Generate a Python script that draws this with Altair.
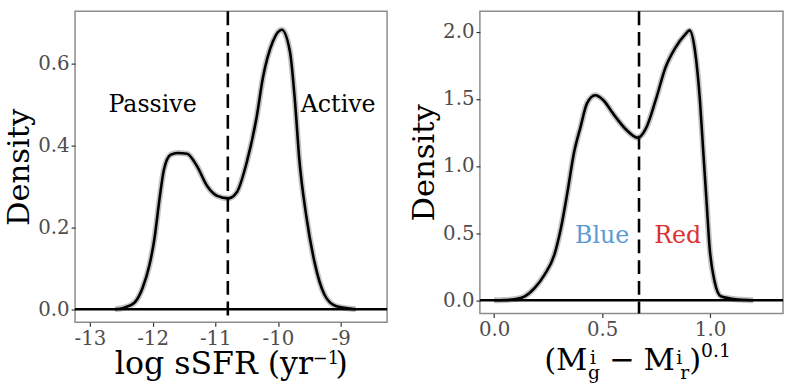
import altair as alt
import pandas as pd

FONT = "DejaVu Serif"

# ---- left panel: log sSFR density ----
ssfr_x = [-12.6, -12.45, -12.29, -12.16, -12.05, -11.97, -11.89, -11.82, -11.71, -11.60,
          -11.45, -11.29, -11.13, -10.97, -10.79, -10.66, -10.50, -10.34, -10.24, -10.08,
          -9.94, -9.81, -9.73, -9.66, -9.55, -9.42, -9.26, -9.08, -8.76]
ssfr_density = [0.0, 0.004, 0.016, 0.052, 0.108, 0.173, 0.269, 0.341, 0.378, 0.382,
                0.380, 0.349, 0.301, 0.277, 0.271, 0.285, 0.358, 0.470, 0.566, 0.655,
                0.683, 0.630, 0.510, 0.366, 0.229, 0.117, 0.036, 0.008, 0.0]
ssfr_split = -10.8
ssfr_labels = ["Passive", "Active"]
ssfr_label_x = [-12.0, -9.04]
ssfr_label_y = [0.5, 0.5]
ssfr_xticks = [-13, -12, -11, -10, -9]
ssfr_yticks = [0.0, 0.2, 0.4, 0.6]

# ---- right panel: colour density ----
color_x = [0.0, 0.05, 0.10, 0.142, 0.188, 0.233, 0.279, 0.309, 0.339, 0.37, 0.40, 0.43,
           0.468, 0.506, 0.551, 0.612, 0.665, 0.703, 0.748, 0.794, 0.839, 0.885, 0.905,
           0.93, 0.953, 0.968, 0.983, 0.998, 1.021, 1.05, 1.11, 1.2]
color_density = [0.0, 0.002, 0.01, 0.03, 0.093, 0.19, 0.34, 0.535, 0.80, 1.10, 1.29, 1.466,
                 1.527, 1.49, 1.39, 1.27, 1.21, 1.28, 1.49, 1.735, 1.88, 1.98, 2.01,
                 1.86, 1.49, 1.12, 0.755, 0.39, 0.14, 0.03, 0.01, 0.0]
color_split = 0.671
color_labels = ["Blue", "Red"]
color_label_x = [0.50, 0.85]
color_label_y = [0.48, 0.48]
color_label_colors = ["#5a9bd4", "#e0302e"]
color_xticks = [0.0, 0.5, 1.0]
color_yticks = [0.0, 0.5, 1.0, 1.5, 2.0]

LW = 2.6
one = pd.DataFrame({"v": [0]})


def panel(xs, ys, split, xdom, ydom, xticks, yticks, xfmt, width, height,
          labels, lx, ly, lcolors):
    df = pd.DataFrame({"x": xs, "density": ys})
    xsc = alt.Scale(domain=xdom, nice=False, zero=False)
    ysc = alt.Scale(domain=ydom, nice=False, zero=False)
    halo = alt.Chart(df).mark_line(color="#b5b5b5", strokeWidth=6, opacity=0.8,
                                   interpolate="monotone").encode(
        x=alt.X("x:Q", scale=xsc, axis=alt.Axis(values=xticks, labelExpr=xfmt, title=None)),
        y=alt.Y("density:Q", scale=ysc,
                axis=alt.Axis(values=yticks, format=".1f", title="Density",
                              titlePadding=2, minExtent=38, maxExtent=38)),
    )
    line = alt.Chart(df).mark_line(color="black", strokeWidth=LW,
                                   interpolate="monotone").encode(x="x:Q", y="density:Q")
    zero = alt.Chart(one).mark_rule(color="black", strokeWidth=LW).encode(y=alt.datum(0))
    vline = alt.Chart(one).mark_rule(color="black", strokeWidth=LW,
                                     strokeDash=[14, 7]).encode(x=alt.datum(split))
    ann = pd.DataFrame({"x": lx, "density": ly, "label": labels, "c": lcolors})
    text = alt.Chart(ann).mark_text(font=FONT, fontSize=24, baseline="middle",
                                    align="center").encode(
        x="x:Q", y="density:Q", text="label:N", color=alt.Color("c:N", scale=None))
    return alt.layer(halo, line, zero, vline, text).properties(width=width, height=height)


def title_layers(pieces):
    return [
        alt.Chart(one).mark_text(text=t, font=FONT, fontSize=s, align=a,
                                 baseline="alphabetic", color="black").encode(
            x=alt.value(px), y=alt.value(py))
        for t, px, py, s, a in pieces
    ]


left_base = panel(ssfr_x, ssfr_density, ssfr_split, [-13.237, -8.26], [-0.032, 0.728],
                  ssfr_xticks, ssfr_yticks, "'' + datum.value",
                  316, 315, ssfr_labels, ssfr_label_x, ssfr_label_y, ["black", "black"])

# x title: log sSFR (yr^-1)
left_title = [
    ("log sSFR (yr", 241, 367, 32, "right"),
    ("\u22121", 254, 357, 18, "center"),
    (")", 270, 367, 32, "center"),
]
left = alt.layer(left_base, *title_layers(left_title))

right_base = panel(color_x, color_density, color_split, [-0.066, 1.338], [-0.098, 2.152],
                   color_xticks, color_yticks, "format(datum.value, '.1f')",
                   307, 306, color_labels, color_label_x, color_label_y, color_label_colors)

# x title: (M^i_g - M^i_r)^0.1
right_title = [
    ("(M", 87, 363, 31, "center"),
    ("i", 114.5, 357, 19, "center"),
    ("g", 115.5, 372, 19, "center"),
    ("\u2212", 144, 363, 31, "center"),
    ("M", 181.5, 363, 31, "center"),
    ("i", 202, 357, 19, "center"),
    ("r", 207.5, 372, 19, "center"),
    (")", 218, 363, 31, "center"),
    ("0.1", 239, 350, 19, "center"),
]
right = alt.layer(right_base, *title_layers(right_title))

chart = alt.hconcat(left, right, spacing=18).properties(
    padding={"left": 3, "top": 6, "right": 0, "bottom": 0}
).configure_view(
    stroke="#8c8c8c", strokeWidth=1.5
).configure_axis(
    grid=False, domain=False, tickColor="#333333", tickSize=4, tickWidth=1.2,
    labelFont=FONT, labelFontSize=20, labelColor="#4d4d4d", labelPadding=2,
    titleFont=FONT, titleFontSize=31, titleColor="black", titleFontWeight="normal"
)

chart.save("out.html", embed_options={"renderer": "svg", "actions": False})
